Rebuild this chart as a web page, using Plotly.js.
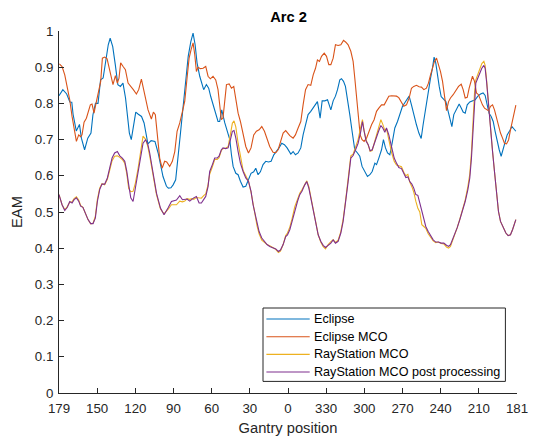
<!DOCTYPE html>
<html>
<head>
<meta charset="utf-8">
<script src="https://cdn.plot.ly/plotly-3.0.1.min.js"></script>
<style>html,body{margin:0;padding:0;background:#fff;}#chart{width:533px;height:438px;}</style>
</head>
<body>
<div id="chart"></div>
<script>
// x = degrees travelled from gantry 179 (0) through 0 to gantry 181 (358)
const gantryLabels = ['179','150','120','90','60','30','0','330','300','270','240','210','181'];
const arcSpan = 358;

const eclipseX = [0,3,6,8.5,10,11,13.5,16,17.5,20,22.5,25,26.5,28.5,30.5,32.5,34.5,36.5,38.5,40,42,44,46,48,50,52,53.5,55,56.5,58,60,62,64.5,66.5,68,69.5,72,75,77.5,79.5,81.3,84,85.5,87.5,89.2,91.2,93,95,97,99,101,103,104.8,106.4,107.9,110,111.6,113.1,115.2,117,118.6,120.4,122.5,124.3,125.6,127.2,129.6,131.4,133.5,134.8,136.1,138.2,140,141.8,143.9,146,148.1,150.1,152.2,153.8,155.6,157.4,159.5,161.6,163.7,165.8,167.9,170,172,174.1,176.2,178.3,181.2,183,184.8,186.9,189,190.8,192.7,194.7,196.8,198.9,200.5,202,203.1,204.1,205.7,207.8,209.9,211.4,212.5,214.3,216.1,217.7,219.5,220.8,222.4,223.9,225.5,227.3,229.1,231.2,233.3,235.1,236.9,239,241.1,243,244.8,246.9,248.2,250,252.1,253.6,255.2,256.8,258.6,260.4,262.5,264.6,266.4,268.5,270.3,272.1,273.7,275.5,277.3,279.4,281.3,283.1,284.6,286.7,288.6,290.4,291.9,293.2,294.5,295.9,297.2,298.7,300.3,302.4,303.9,305.5,307.1,308.6,310.7,312.8,314.4,315.9,317.5,319.1,321.1,323.2,325.3,327.4,329.5,331.5,333.1,334.7,336.2,337.8,339.4,340.9,342.5,344.1,345.6,347.2,348.8,350.3,352.4,354,355.5,357.1];
const eclipseY = [0.821,0.838,0.826,0.804,0.803,0.77,0.724,0.742,0.704,0.672,0.704,0.718,0.768,0.80,0.80,0.865,0.87,0.916,0.962,0.98,0.957,0.907,0.852,0.847,0.856,0.815,0.769,0.718,0.70,0.736,0.776,0.77,0.764,0.746,0.714,0.688,0.697,0.695,0.663,0.625,0.598,0.571,0.566,0.567,0.575,0.589,0.645,0.72,0.79,0.87,0.93,0.97,0.994,0.962,0.912,0.875,0.852,0.838,0.852,0.842,0.819,0.796,0.769,0.75,0.75,0.782,0.746,0.723,0.70,0.658,0.626,0.607,0.603,0.585,0.569,0.571,0.589,0.607,0.611,0.621,0.603,0.611,0.631,0.64,0.638,0.64,0.658,0.667,0.677,0.69,0.686,0.677,0.66,0.667,0.658,0.663,0.677,0.713,0.741,0.769,0.778,0.789,0.796,0.805,0.782,0.759,0.807,0.807,0.81,0.796,0.782,0.807,0.82,0.838,0.865,0.868,0.861,0.847,0.815,0.769,0.723,0.672,0.663,0.654,0.626,0.612,0.598,0.603,0.612,0.635,0.631,0.649,0.672,0.70,0.677,0.663,0.658,0.69,0.732,0.75,0.769,0.792,0.802,0.81,0.82,0.796,0.769,0.741,0.718,0.703,0.741,0.787,0.838,0.87,0.897,0.928,0.912,0.875,0.847,0.819,0.813,0.805,0.782,0.762,0.736,0.769,0.782,0.798,0.787,0.776,0.773,0.796,0.804,0.806,0.81,0.82,0.826,0.829,0.822,0.796,0.773,0.764,0.75,0.723,0.695,0.672,0.654,0.672,0.695,0.713,0.725,0.736,0.73,0.723];

const eclipseMcoX = [0.3,2.4,4.5,6.5,8.4,10.2,11.8,13.6,15.4,16.9,18,19.6,21.4,22.7,24.5,25.8,27.4,28.4,30.5,32.6,33.9,35.7,37.6,39.1,40.4,42.2,44.1,45.6,46.9,48.2,50.1,51.9,54,56.1,58.1,60.5,62.3,64.4,66,67.5,69.6,72.2,73.8,75.3,76.9,78.7,80.6,82.6,84.2,86.5,88.6,90.5,92.3,94.4,96.5,98.3,100.1,101.7,103.2,104.8,106.1,107.4,108.7,110.5,112.6,114.7,116.5,118.3,120.4,122.5,124.3,125.6,126.9,128.2,129.6,130.9,133,134.8,136.6,138.2,140,141.8,143.9,146,148.1,150.1,152.2,154.3,156.4,158.5,160.6,162.6,164.7,167.3,169.4,171.3,173.1,175.2,177.2,178.6,180.4,183,184.8,186.9,189,190.8,192.7,194.7,196.8,198.7,200.5,202,203.6,205.2,207.3,209.1,210.9,212.5,214.3,216.1,218.2,220.3,222.4,224.2,226,228.1,229.9,231.2,232.5,233.8,235.4,236.9,238.5,240.4,242.2,244.3,246.3,248.2,250,252.1,254.2,256,257.8,259.9,262,263.8,265.6,267.7,269.5,271.6,273.7,275.5,277.3,279.4,281.5,283.3,285.2,287.2,288.8,290.4,291.9,293.5,295.1,296.6,298.2,299.8,301.3,302.9,304.5,306,308.1,310.2,312.3,314.4,315.9,317.5,319.1,320.6,322.2,323.2,324.8,326.3,327.9,329.5,331,332.6,334.2,335.7,337.3,338.9,340.4,342,343.5,345.1,346.7,348.2,349.8,351.4,352.9,354.5,356.1,357.1];
const eclipseMcoY = [0.909,0.902,0.879,0.847,0.81,0.764,0.727,0.695,0.713,0.708,0.713,0.748,0.759,0.778,0.796,0.798,0.773,0.791,0.829,0.861,0.925,0.928,0.923,0.902,0.884,0.852,0.877,0.856,0.870,0.912,0.902,0.893,0.856,0.845,0.838,0.826,0.838,0.867,0.842,0.81,0.782,0.757,0.776,0.769,0.704,0.649,0.621,0.64,0.638,0.626,0.64,0.667,0.723,0.746,0.778,0.806,0.87,0.925,0.948,0.967,0.935,0.888,0.90,0.896,0.897,0.902,0.875,0.868,0.875,0.865,0.838,0.796,0.755,0.76,0.806,0.852,0.854,0.842,0.847,0.815,0.773,0.75,0.713,0.681,0.663,0.677,0.713,0.723,0.727,0.736,0.723,0.70,0.681,0.665,0.664,0.672,0.695,0.718,0.725,0.718,0.711,0.704,0.713,0.732,0.75,0.796,0.838,0.852,0.85,0.879,0.897,0.92,0.916,0.93,0.939,0.93,0.907,0.907,0.925,0.962,0.96,0.962,0.974,0.969,0.962,0.944,0.916,0.87,0.815,0.759,0.713,0.70,0.695,0.704,0.723,0.741,0.755,0.778,0.787,0.796,0.796,0.81,0.82,0.821,0.82,0.82,0.816,0.804,0.792,0.796,0.815,0.842,0.847,0.85,0.846,0.845,0.838,0.842,0.856,0.879,0.897,0.916,0.925,0.907,0.888,0.861,0.824,0.78,0.805,0.815,0.824,0.835,0.847,0.853,0.838,0.815,0.817,0.842,0.862,0.875,0.861,0.829,0.824,0.806,0.796,0.787,0.782,0.78,0.792,0.796,0.782,0.759,0.736,0.718,0.704,0.69,0.688,0.699,0.727,0.75,0.776,0.795];

const rayStationX = [0,2.4,4.5,6.5,8.4,10.2,11.8,13.6,15.4,16.9,18.7,20.5,22.7,24.8,26.6,28.4,30,31.8,33.6,35.7,37.8,39.6,41.5,43.5,45.6,47.5,49.5,51.4,53,54.5,56.1,57.9,59.7,61.8,63.8,65.7,67.8,69.5,70.9,73.5,76.2,79.3,82.1,85.2,87.9,91.8,94.4,96.5,98.3,100.1,102.2,103.8,105.3,107.4,109.5,111.3,113.1,114.7,116.5,117.8,119.9,121.7,123.6,125.1,126.9,128.2,130.3,132.2,134,135.5,136.8,138.2,140,141.8,143.9,146,148.1,150.1,151.7,153.3,154.8,156.4,158.5,160.6,162.6,164.7,167.3,169.4,171.5,173.1,175.2,177.2,178.6,180.4,182.2,184.3,186.4,188.2,190,192.1,193.7,195.3,196.8,198.7,200.5,202.6,204.6,206.5,208.3,210.4,212.5,214.3,216.1,218.2,220.3,222.1,223.9,226,228.1,229.9,231.8,233.8,235.9,237.2,238.5,240.1,241.7,243.2,244.8,246.4,248.2,250,251.6,253.1,254.7,256,257.8,259.9,262,263.8,265.6,267.7,269.5,271.1,272.7,274.2,275.8,277.3,278.9,280.5,282,283.6,285.2,286.7,288.6,290.4,292.5,294.5,296.6,298.7,300.8,302.9,304.5,306,307.6,309.4,311.2,313.3,315.4,317.5,319.6,321.1,322.4,323.7,324.8,325.8,327.4,329,330.5,332.1,333.1,334.2,335.2,336.2,337.3,338.9,340.4,342,343.5,345.1,347.2,349.3,351.1,352.9,354.5,356.1,357.1];
const rayStationMcoY = [0.548,0.52,0.506,0.515,0.527,0.528,0.537,0.542,0.533,0.518,0.513,0.497,0.479,0.467,0.469,0.488,0.535,0.566,0.578,0.575,0.59,0.615,0.642,0.654,0.655,0.651,0.645,0.635,0.605,0.565,0.556,0.557,0.58,0.62,0.665,0.71,0.70,0.68,0.655,0.6,0.548,0.508,0.495,0.507,0.52,0.52,0.53,0.528,0.53,0.537,0.535,0.537,0.535,0.54,0.54,0.538,0.545,0.55,0.575,0.605,0.625,0.645,0.645,0.65,0.67,0.675,0.677,0.68,0.715,0.745,0.752,0.735,0.69,0.65,0.615,0.6,0.585,0.555,0.52,0.49,0.462,0.44,0.422,0.416,0.41,0.407,0.402,0.397,0.388,0.392,0.41,0.435,0.442,0.458,0.482,0.515,0.535,0.552,0.562,0.578,0.586,0.57,0.543,0.51,0.476,0.437,0.417,0.404,0.398,0.41,0.418,0.423,0.416,0.422,0.446,0.48,0.528,0.595,0.655,0.66,0.678,0.7,0.735,0.755,0.725,0.698,0.685,0.668,0.67,0.69,0.71,0.735,0.755,0.742,0.725,0.73,0.7,0.665,0.64,0.63,0.628,0.625,0.61,0.6,0.604,0.583,0.57,0.555,0.53,0.51,0.5,0.465,0.46,0.455,0.44,0.432,0.42,0.415,0.417,0.413,0.412,0.403,0.4,0.405,0.42,0.436,0.456,0.48,0.505,0.533,0.57,0.605,0.665,0.76,0.83,0.865,0.88,0.895,0.91,0.916,0.905,0.866,0.818,0.77,0.723,0.667,0.612,0.557,0.502,0.474,0.456,0.442,0.435,0.437,0.451,0.469,0.479];
const rayStationPostY = [0.548,0.52,0.504,0.513,0.529,0.525,0.534,0.539,0.53,0.516,0.513,0.497,0.479,0.468,0.468,0.483,0.529,0.562,0.577,0.577,0.594,0.621,0.649,0.663,0.667,0.655,0.649,0.64,0.612,0.575,0.539,0.529,0.566,0.608,0.65,0.69,0.70,0.686,0.663,0.608,0.552,0.511,0.4925,0.511,0.529,0.533,0.545,0.534,0.534,0.536,0.53,0.536,0.539,0.543,0.525,0.525,0.534,0.543,0.57,0.612,0.631,0.649,0.649,0.654,0.672,0.677,0.675,0.677,0.70,0.723,0.725,0.705,0.667,0.635,0.612,0.594,0.585,0.557,0.52,0.492,0.465,0.446,0.428,0.419,0.41,0.405,0.40,0.398,0.391,0.395,0.41,0.432,0.437,0.451,0.474,0.506,0.529,0.548,0.558,0.575,0.584,0.566,0.539,0.506,0.474,0.437,0.419,0.408,0.402,0.408,0.414,0.423,0.414,0.419,0.442,0.474,0.52,0.584,0.649,0.656,0.672,0.69,0.723,0.75,0.723,0.695,0.686,0.669,0.672,0.69,0.704,0.725,0.739,0.732,0.72,0.732,0.713,0.677,0.649,0.635,0.623,0.62,0.607,0.595,0.597,0.584,0.577,0.566,0.548,0.546,0.525,0.502,0.479,0.46,0.446,0.437,0.423,0.417,0.417,0.414,0.414,0.408,0.405,0.41,0.423,0.437,0.456,0.479,0.502,0.529,0.562,0.594,0.649,0.741,0.815,0.856,0.87,0.884,0.897,0.905,0.897,0.861,0.815,0.769,0.723,0.667,0.612,0.557,0.502,0.474,0.456,0.442,0.435,0.437,0.451,0.469,0.479];

const seriesNames = ['Eclipse','Eclipse MCO','RayStation MCO','RayStation MCO post processing'];
const seriesColors = ['#0072BD','#D95319','#EDB120','#7E2F8E'];

const xs = [eclipseX, eclipseMcoX, rayStationX, rayStationX];
const ys = [eclipseY, eclipseMcoY, rayStationMcoY, rayStationPostY];

const traces = seriesNames.map((n, i) => ({
  x: xs[i], y: ys[i], name: n, type: 'scatter', mode: 'lines',
  line: {color: seriesColors[i], width: 1.1}, showlegend: false
}));

const tickVals = gantryLabels.map((_, k) => k * arcSpan / (gantryLabels.length - 1));
const axisColor = '#262626';
const font = 'Arial, "Liberation Sans", Helvetica, sans-serif';

// legend box drawn in paper coordinates (plot area: 458 x 362 px)
const W = 458, H = 362;
const px = v => v / W, py = v => v / H;
const legLeft = px(204), legRight = px(446.4), legTop = py(85), legBottom = py(11.6);
const rowY = [74, 56.3, 38.6, 21].map(py);
const shapes = [{type: 'rect', xref: 'paper', yref: 'paper', x0: legLeft, x1: legRight, y0: legBottom, y1: legTop,
  line: {color: axisColor, width: 1}, fillcolor: '#fff', layer: 'above'}];
const annotations = [];
seriesNames.forEach((n, i) => {
  shapes.push({type: 'line', xref: 'paper', yref: 'paper', x0: px(207.4), x1: px(250.7), y0: rowY[i], y1: rowY[i],
    line: {color: seriesColors[i], width: 1.1}, layer: 'above'});
  annotations.push({xref: 'paper', yref: 'paper', x: px(252.5), y: rowY[i], xanchor: 'left', yanchor: 'middle',
    text: n, showarrow: false, font: {family: font, size: 12.6, color: '#000'}});
});

const layout = {
  width: 533, height: 438,
  margin: {l: 59, r: 16, t: 31, b: 45},
  paper_bgcolor: '#fff', plot_bgcolor: '#fff',
  font: {family: font, color: axisColor, size: 13},
  title: {text: '<b>Arc 2</b>', font: {family: font, size: 14.7, color: '#000'}, x: 0.5413, xanchor: 'center', y: 0.962, yanchor: 'middle'},
  xaxis: {
    range: [0, arcSpan], tickmode: 'array', tickvals: tickVals, ticktext: gantryLabels,
    ticks: 'inside', ticklen: 5, tickcolor: axisColor, tickwidth: 1,
    showline: true, linecolor: axisColor, linewidth: 1, showgrid: false, zeroline: false,
    tickfont: {size: 13.3, color: axisColor}, ticklabelstandoff: 3,
    title: {text: 'Gantry position', font: {size: 14.7, color: axisColor}, standoff: 7}
  },
  yaxis: {
    range: [0, 1], dtick: 0.1, tick0: 0,
    ticks: 'inside', ticklen: 5, tickcolor: axisColor, tickwidth: 1,
    showline: true, linecolor: axisColor, linewidth: 1, showgrid: false, zeroline: false,
    tickfont: {size: 13.3, color: axisColor}, ticklabelstandoff: 2,
    title: {text: 'EAM', font: {size: 14.7, color: axisColor}, standoff: 8}
  },
  showlegend: false,
  shapes: shapes,
  annotations: annotations
};

Plotly.newPlot('chart', traces, layout, {staticPlot: true, displayModeBar: false});
</script>
</body>
</html>
